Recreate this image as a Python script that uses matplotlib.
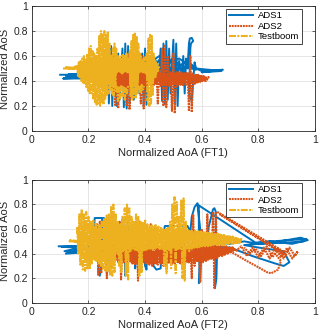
import numpy as np
import matplotlib
matplotlib.use("Agg")
import matplotlib.pyplot as plt

nan = float("nan")

# ---------------- Panel 1 (FT1) ----------------
ads1_ft1_x = [0.10, 0.20, 0.12, 0.21, 0.11, 0.20, 0.13, 0.22, 0.25,
              0.27, 0.272, 0.28, 0.284, 0.29, 0.30, 0.305, 0.31, 0.32, 0.325, 0.33, 0.335, 0.34, 0.345,
              0.355, 0.36, 0.37, 0.38, 0.39, 0.395, 0.40, 0.405, 0.41, 0.42, 0.43, 0.44, 0.45, 0.455,
              0.46, 0.465, 0.47, 0.475, 0.48, 0.485, 0.49, 0.50, 0.505, 0.51, 0.515, 0.52, 0.53, 0.535,
              0.54, 0.545, 0.55, 0.555, 0.558, 0.565, 0.57, 0.562, 0.56, 0.555, 0.565, 0.57, 0.575, 0.58,
              0.60, 0.675, 0.60, 0.67, 0.58, 0.55, 0.52, 0.50, 0.47, 0.45, 0.43, 0.42, 0.45, 0.48, 0.52,
              0.56, 0.58, 0.55, 0.50, 0.45, 0.42, 0.40, 0.30, 0.22]
ads1_ft1_y = [0.45, 0.45, 0.44, 0.43, 0.42, 0.42, 0.455, 0.46, 0.47,
              0.66, 0.22, 0.68, 0.20, 0.60, 0.20, 0.62, 0.25, 0.66, 0.19, 0.70, 0.18, 0.68, 0.22,
              0.60, 0.25, 0.55, 0.30, 0.62, 0.20, 0.66, 0.21, 0.60, 0.45, 0.50, 0.56, 0.48, 0.66,
              0.24, 0.70, 0.22, 0.72, 0.25, 0.66, 0.30, 0.73, 0.22, 0.70, 0.20, 0.56, 0.45, 0.60,
              0.30, 0.58, 0.50, 0.70, 0.74, 0.745, 0.72, 0.70, 0.66, 0.30, 0.24, 0.40, 0.55, 0.50,
              0.48, 0.49, 0.47, 0.48, 0.50, 0.56, 0.52, 0.58, 0.53, 0.57, 0.50, 0.55, 0.60, 0.54, 0.58,
              0.52, 0.49, 0.51, 0.50, 0.52, 0.49, 0.48, 0.48, 0.47]

ads2_ft1_x = [0.270, 0.275, 0.280, 0.285, 0.290, 0.295, 0.300, 0.305, 0.310, 0.315,
              0.320, 0.325, 0.330, 0.335, 0.340, 0.345, 0.350, 0.355, 0.360, 0.365, 0.370, 0.375,
              0.380, 0.385, 0.390, 0.395, 0.400, 0.405, 0.410, 0.415, 0.420, 0.425, 0.430, 0.435,
              0.440, 0.445, 0.450, 0.455, 0.460, 0.465, 0.470, 0.475, 0.480, 0.485, 0.490, 0.495,
              0.500, 0.505, 0.510, 0.515, 0.520, 0.525, 0.530, 0.535, 0.540, 0.545, 0.550, 0.555,
              0.560, 0.565, 0.570, 0.575, 0.580, 0.585, 0.590, 0.595, 0.600, 0.605, 0.610, 0.620,
              0.600, 0.625, 0.590, 0.615,
              0.617, 0.612, 0.607, 0.602, 0.597, 0.592, 0.587, 0.582, 0.577, 0.572, 0.567, 0.562,
              0.557, 0.552, 0.547, 0.542, 0.537, 0.532, 0.527, 0.522, 0.517, 0.512, 0.507, 0.502,
              0.497, 0.492, 0.487, 0.482, 0.477, 0.472, 0.467, 0.462, 0.457, 0.452, 0.447, 0.442,
              0.437, 0.432, 0.427, 0.422, 0.417, 0.412, 0.407, 0.402, 0.397, 0.392, 0.387, 0.382,
              0.377, 0.372, 0.367, 0.362, 0.357, 0.352, 0.347, 0.342, 0.337, 0.332, 0.327, 0.322,
              0.317, 0.312, 0.307, 0.302, 0.297, 0.292, 0.287, 0.282, 0.277, 0.272]
ads2_ft1_y = [0.47, 0.38, 0.60, 0.30, 0.62, 0.20, 0.58, 0.18, 0.47, 0.36,
              0.48, 0.35, 0.47, 0.20, 0.62, 0.17, 0.48, 0.36, 0.47, 0.35, 0.48, 0.36,
              0.47, 0.22, 0.60, 0.18, 0.48, 0.36, 0.47, 0.37, 0.48, 0.36, 0.47, 0.38,
              0.48, 0.22, 0.47, 0.36, 0.66, 0.20, 0.69, 0.19, 0.60, 0.36, 0.47, 0.16,
              0.62, 0.14, 0.47, 0.36, 0.46, 0.37, 0.47, 0.36, 0.46, 0.37, 0.47, 0.16,
              0.60, 0.15, 0.46, 0.37, 0.45, 0.38, 0.45, 0.39, 0.44, 0.40, 0.43, 0.41,
              0.42, 0.43, 0.41, 0.40,
              0.43, 0.41, 0.44, 0.40, 0.44, 0.40, 0.45, 0.39, 0.45, 0.38, 0.46, 0.39,
              0.46, 0.38, 0.46, 0.38, 0.46, 0.37, 0.47, 0.38, 0.47, 0.37, 0.46, 0.38,
              0.46, 0.37, 0.47, 0.38, 0.46, 0.37, 0.47, 0.38, 0.46, 0.37, 0.47, 0.38,
              0.46, 0.37, 0.47, 0.36, 0.47, 0.37, 0.46, 0.36, 0.47, 0.37, 0.48, 0.36,
              0.47, 0.35, 0.46, 0.36, 0.47, 0.37, 0.48, 0.36, 0.47, 0.35, 0.46, 0.37,
              0.48, 0.36, 0.47, 0.35, 0.47, 0.37, 0.46, 0.36, 0.47, 0.37]

tb_ft1_x = [0.110, 0.180, 0.120, 0.175, 0.130, 0.160, 0.163, 0.166, 0.169, 0.172, 0.175, 0.178,
            0.181, 0.184, 0.187, 0.190, 0.193, 0.196, 0.199, 0.202, 0.205, 0.208, 0.211, 0.214,
            0.217, 0.220, 0.223, 0.226, 0.229, 0.232, 0.235, 0.238, 0.241, 0.244, 0.247, 0.250,
            0.253, 0.256, 0.259, 0.262, 0.265, 0.268, 0.271, 0.274, 0.277, 0.280, 0.283, 0.286,
            0.289, 0.292, 0.295, 0.298, 0.301, 0.304, 0.307, 0.310, 0.313, 0.316, 0.319, 0.322,
            0.325, 0.328, 0.331, 0.334, 0.337, 0.340, 0.343, 0.346, 0.349, 0.352, 0.355, 0.358,
            0.361, 0.364, 0.367, 0.370, 0.373, 0.376, 0.379, 0.382, 0.385, 0.388, 0.391, 0.394,
            0.397, 0.400, 0.403, 0.406, 0.409, 0.412, 0.415, 0.418, 0.421, 0.424, 0.427, 0.430,
            0.433, 0.436, 0.439, 0.442, 0.446, 0.450,
            0.440, 0.436, 0.432, 0.428, 0.424, 0.420, 0.416, 0.412, 0.408, 0.404, 0.400, 0.396,
            0.392, 0.388, 0.384, 0.380, 0.376, 0.372, 0.368, 0.364, 0.360, 0.356, 0.352, 0.348,
            0.344, 0.340, 0.336, 0.332, 0.328, 0.324, 0.320, 0.316, 0.312, 0.308, 0.304, 0.300,
            0.296, 0.292, 0.288, 0.284, 0.280, 0.276, 0.272, 0.268, 0.264, 0.260, 0.256, 0.252,
            0.248, 0.244, 0.240, 0.236, 0.232, 0.228, 0.224, 0.220, 0.216, 0.212, 0.208, 0.204,
            0.200, 0.196, 0.192, 0.188, 0.184, 0.180, 0.176, 0.172, 0.168, 0.164,
            nan, 0.300, 0.304, 0.308, 0.312, 0.316, 0.320, 0.324, 0.328, 0.332, 0.336, 0.340,
            nan, 0.380, 0.384, 0.388, 0.392, 0.396]
tb_ft1_y = [0.50, 0.50, 0.51, 0.49, 0.50, 0.52, 0.44, 0.55, 0.42, 0.56, 0.40, 0.58,
            0.38, 0.60, 0.37, 0.57, 0.35, 0.62, 0.32, 0.66, 0.29, 0.68, 0.30, 0.64,
            0.26, 0.62, 0.23, 0.60, 0.21, 0.66, 0.22, 0.76, 0.20, 0.80, 0.22, 0.78,
            0.21, 0.80, 0.25, 0.77, 0.28, 0.79, 0.30, 0.70, 0.33, 0.60, 0.30, 0.66,
            0.28, 0.70, 0.32, 0.66, 0.47, 0.58, 0.48, 0.56, 0.47, 0.60, 0.46, 0.62,
            0.48, 0.58, 0.47, 0.62, 0.47, 0.57, 0.48, 0.64, 0.28, 0.72, 0.25, 0.77,
            0.27, 0.78, 0.26, 0.76, 0.30, 0.70, 0.47, 0.62, 0.48, 0.56, 0.47, 0.58,
            0.47, 0.55, 0.46, 0.62, 0.24, 0.74, 0.20, 0.77, 0.22, 0.76, 0.28, 0.62,
            0.42, 0.56, 0.46, 0.53, 0.48, 0.52,
            0.54, 0.43, 0.58, 0.40, 0.57, 0.39, 0.60, 0.40, 0.58, 0.47, 0.59, 0.47,
            0.57, 0.48, 0.60, 0.47, 0.58, 0.39, 0.59, 0.38, 0.57, 0.40, 0.60, 0.38,
            0.58, 0.47, 0.59, 0.48, 0.60, 0.47, 0.57, 0.48, 0.58, 0.47, 0.60, 0.48,
            0.59, 0.38, 0.58, 0.40, 0.60, 0.37, 0.59, 0.39, 0.58, 0.38, 0.60, 0.40,
            0.57, 0.38, 0.59, 0.37, 0.58, 0.39, 0.60, 0.38, 0.57, 0.40, 0.58, 0.39,
            0.56, 0.41, 0.57, 0.42, 0.55, 0.43, 0.56, 0.44, 0.54, 0.45,
            nan, 0.36, 0.24, 0.35, 0.26, 0.36, 0.28, 0.35, 0.25, 0.34, 0.30, 0.36,
            nan, 0.36, 0.30, 0.37, 0.33, 0.36]

# ---------------- Panel 2 (FT2) ----------------
ads1_ft2_x = [0.095, 0.16, 0.105, 0.17, 0.115, 0.18, 0.12, 0.16, 0.20,
              0.22, 0.222, 0.25, 0.24, 0.235, 0.24, 0.245, 0.25, 0.255, 0.26, 0.265, 0.27, 0.275,
              0.28, 0.29, 0.30, 0.31, 0.32, 0.325, 0.33, 0.335, 0.34, 0.345, 0.36, 0.365, 0.37,
              0.38, 0.39, 0.40, 0.405, 0.41, 0.42, 0.43, 0.44, 0.455, 0.46, 0.47, 0.55, 0.56,
              0.565, 0.575, 0.585, 0.59, 0.59, 0.592, 0.59, 0.595, 0.60, 0.585, 0.79, 0.85, 0.97,
              0.96, 0.90, 0.80, 0.75, 0.70, 0.62, 0.625, 0.64, 0.645, 0.65, 0.65, 0.647, 0.652,
              0.655, 0.70, 0.78, 0.86, 0.89, 0.91, 0.89, 0.80, 0.75, 0.85, 0.95, 0.975, 0.92,
              0.84, 0.78]
ads1_ft2_y = [0.46, 0.46, 0.455, 0.45, 0.42, 0.41, 0.40, 0.43, 0.45,
              0.62, 0.69, 0.69, 0.62, 0.25, 0.22, 0.30, 0.66, 0.69, 0.60, 0.40, 0.66, 0.25,
              0.30, 0.45, 0.50, 0.60, 0.68, 0.62, 0.22, 0.25, 0.66, 0.45, 0.62, 0.28, 0.40,
              0.55, 0.50, 0.30, 0.27, 0.60, 0.45, 0.30, 0.27, 0.28, 0.50, 0.625, 0.625, 0.58,
              0.70, 0.78, 0.81, 0.78, 0.55, 0.30, 0.16, 0.20, 0.50, 0.80, 0.49, 0.50, 0.52,
              0.50, 0.49, 0.48, 0.50, 0.48, 0.50, 0.62, 0.76, 0.77, 0.74, 0.40, 0.12, 0.20,
              0.45, 0.45, 0.38, 0.32, 0.30, 0.33, 0.42, 0.45, 0.47, 0.49, 0.53, 0.51, 0.48,
              0.50, 0.48]

ads2_ft2_x = [0.200, 0.205, 0.210, 0.215, 0.220, 0.225, 0.230, 0.235, 0.240, 0.245, 0.250, 0.255,
              0.260, 0.265, 0.270, 0.275, 0.280, 0.285, 0.290, 0.295, 0.300, 0.305, 0.310, 0.315,
              0.320, 0.325, 0.330, 0.335, 0.340, 0.345, 0.350, 0.355, 0.360, 0.365, 0.370, 0.375,
              0.380, 0.385, 0.390, 0.395, 0.400, 0.405, 0.410, 0.415, 0.420, 0.425, 0.430, 0.435,
              0.440, 0.445, 0.450, 0.455, 0.460, 0.465, 0.470, 0.475, 0.480, 0.485, 0.490, 0.495,
              0.500, 0.505, 0.510, 0.515, 0.520, 0.525, 0.530, 0.535, 0.540, 0.545, 0.550, 0.555,
              0.560, 0.565, 0.570, 0.575, 0.580, 0.585, 0.590, 0.595, 0.600, 0.605, 0.610, 0.615,
              0.620, 0.625, 0.630, 0.635, 0.640, 0.645, 0.650, 0.655, 0.660, 0.665, 0.670, 0.675,
              0.680, 0.685, 0.690, 0.695, 0.700, 0.705, 0.710, 0.715, 0.720,
              nan, 0.282, 0.287, 0.292, 0.297, 0.302, 0.307, 0.312, 0.317, 0.322, 0.327, 0.332,
              0.337, 0.342, 0.347, 0.352, 0.357, 0.362, 0.367, 0.372, 0.377, 0.382, 0.387, 0.392,
              0.397, 0.402, 0.407, 0.412, 0.417, 0.422, 0.427, 0.432, 0.437, 0.442, 0.447, 0.452,
              0.457, 0.462, 0.467, 0.472, 0.477, 0.482, 0.487, 0.492, 0.497, 0.502, 0.507, 0.512,
              0.517, 0.522, 0.527, 0.532, 0.537, 0.542, 0.547, 0.552, 0.557, 0.562, 0.567, 0.572,
              0.577, 0.582, 0.587, 0.592, 0.597, 0.602, 0.607, 0.612, 0.617, 0.622, 0.627, 0.632,
              0.637, 0.642, 0.647, 0.652, 0.657, 0.662, 0.667, 0.672, 0.677, 0.682, 0.687, 0.692,
              0.697, 0.702, 0.707, 0.712, 0.717,
              nan, 0.655, 0.880, 0.890, 0.665, 0.900,
              nan, 0.720, 0.740, 0.760, 0.780, 0.800, 0.820, 0.840, 0.860, 0.880, 0.900, 0.920,
              0.940, 0.930, 0.910, 0.890, 0.870, 0.850, 0.830, 0.810, 0.790, 0.770, 0.750,
              nan, 0.700, 0.760, 0.800, 0.830, 0.845, 0.870, 0.880, 0.860]
ads2_ft2_y = [0.44, 0.38, 0.46, 0.37, 0.45, 0.36, 0.64, 0.22, 0.66, 0.24, 0.45, 0.36,
              0.46, 0.20, 0.64, 0.30, 0.46, 0.35, 0.47, 0.34, 0.46, 0.33, 0.66, 0.19,
              0.46, 0.33, 0.47, 0.32, 0.46, 0.34, 0.47, 0.32, 0.46, 0.31, 0.68, 0.18,
              0.66, 0.25, 0.47, 0.33, 0.46, 0.32, 0.47, 0.31, 0.64, 0.30, 0.46, 0.32,
              0.47, 0.31, 0.46, 0.32, 0.47, 0.30, 0.46, 0.31, 0.47, 0.32, 0.46, 0.31,
              0.47, 0.32, 0.46, 0.33, 0.47, 0.32, 0.46, 0.33, 0.47, 0.34, 0.46, 0.33,
              0.47, 0.20, 0.72, 0.30, 0.47, 0.34, 0.47, 0.17, 0.60, 0.33, 0.47, 0.34,
              0.72, 0.35, 0.47, 0.36, 0.74, 0.12, 0.74, 0.36, 0.46, 0.38, 0.46, 0.39,
              0.46, 0.40, 0.45, 0.41, 0.45, 0.42, 0.45, 0.43, 0.44,
              nan, 0.36, 0.45, 0.35, 0.46, 0.36, 0.45, 0.34, 0.46, 0.35, 0.45, 0.34,
              0.46, 0.35, 0.45, 0.33, 0.46, 0.32, 0.45, 0.33, 0.46, 0.32, 0.46, 0.33,
              0.45, 0.32, 0.46, 0.33, 0.46, 0.32, 0.45, 0.33, 0.46, 0.32, 0.46, 0.33,
              0.45, 0.32, 0.46, 0.33, 0.46, 0.32, 0.45, 0.33, 0.46, 0.32, 0.46, 0.33,
              0.45, 0.32, 0.46, 0.33, 0.46, 0.32, 0.45, 0.33, 0.47, 0.34, 0.46, 0.33,
              0.47, 0.34, 0.47, 0.35, 0.46, 0.34, 0.47, 0.35, 0.47, 0.35, 0.46, 0.36,
              0.47, 0.36, 0.46, 0.37, 0.46, 0.38, 0.46, 0.38, 0.45, 0.39, 0.46, 0.40,
              0.45, 0.41, 0.45, 0.42, 0.44,
              nan, 0.74, 0.43, 0.40, 0.72, 0.38,
              nan, 0.42, 0.46, 0.38, 0.45, 0.37, 0.45, 0.36, 0.45, 0.37, 0.44, 0.36,
              0.42, 0.38, 0.45, 0.36, 0.44, 0.37, 0.46, 0.38, 0.44, 0.40, 0.45,
              nan, 0.42, 0.34, 0.29, 0.25, 0.24, 0.27, 0.34, 0.40]

tb_ft2_x = [0.130, 0.170, 0.135, 0.165,
            0.160, 0.164, 0.168, 0.172, 0.176, 0.180, 0.184, 0.188, 0.192, 0.196, 0.200, 0.204,
            0.208, 0.212, 0.216, 0.220, 0.224, 0.228, 0.232, 0.236, 0.240, 0.244, 0.248, 0.252,
            0.256, 0.260, 0.264, 0.268, 0.272, 0.276, 0.280, 0.284, 0.288, 0.292, 0.296, 0.300,
            0.304, 0.308, 0.312, 0.316, 0.320, 0.324, 0.328, 0.332, 0.336, 0.340, 0.344, 0.348,
            0.352, 0.356, 0.360, 0.364, 0.368, 0.372, 0.376, 0.380, 0.384, 0.388, 0.392, 0.396,
            0.400, 0.404, 0.408, 0.412, 0.416, 0.420, 0.424, 0.428, 0.432, 0.436, 0.440, 0.444,
            0.448, 0.452, 0.456, 0.460, 0.464, 0.468, 0.472, 0.476, 0.480, 0.484, 0.488, 0.492,
            0.496, 0.500, 0.504, 0.508, 0.512, 0.516, 0.520, 0.524, 0.528, 0.532, 0.536, 0.540,
            0.544, 0.548, 0.552, 0.556, 0.560, 0.565, 0.570, 0.575, 0.580, 0.585, 0.590, 0.595,
            0.600, 0.605, 0.610, 0.615, 0.620, 0.625, 0.630, 0.635, 0.640, 0.645, 0.650, 0.655,
            0.660, 0.665, 0.670, 0.675, 0.680, 0.685, 0.690, 0.695, 0.700, 0.705, 0.710, 0.715,
            0.720, 0.725, 0.730, 0.735, 0.740,
            0.737, 0.732, 0.727, 0.722, 0.717, 0.712, 0.707, 0.702, 0.697, 0.692, 0.687, 0.682,
            0.677, 0.672, 0.667, 0.662, 0.657, 0.652, 0.647, 0.642, 0.637, 0.632, 0.627, 0.622,
            0.617, 0.612, 0.607, 0.602, 0.597, 0.592, 0.587, 0.582, 0.577, 0.572, 0.567, 0.562,
            0.557, 0.552, 0.547, 0.542, 0.537, 0.532, 0.527, 0.522, 0.517, 0.512, 0.507, 0.502,
            0.497, 0.492, 0.487, 0.482, 0.477, 0.472, 0.467, 0.462, 0.457, 0.452, 0.447, 0.442,
            0.437, 0.432, 0.427, 0.422, 0.417, 0.412, 0.407, 0.402, 0.397, 0.392, 0.387, 0.382,
            0.377, 0.372, 0.367, 0.362, 0.357, 0.352, 0.347, 0.342, 0.337, 0.332, 0.327, 0.322,
            0.317, 0.312, 0.307, 0.302, 0.297, 0.292, 0.287, 0.282, 0.277, 0.272, 0.267, 0.262,
            0.257, 0.252, 0.247, 0.242, 0.237, 0.232, 0.227, 0.222, 0.217, 0.212, 0.207, 0.202,
            0.197, 0.192, 0.187, 0.182, 0.177, 0.172, 0.167, 0.162]
tb_ft2_y = [0.50, 0.50, 0.51, 0.49,
            0.62, 0.40, 0.72, 0.30, 0.76, 0.27, 0.72, 0.26, 0.74, 0.28, 0.70, 0.27,
            0.66, 0.32, 0.64, 0.36, 0.62, 0.34, 0.60, 0.32, 0.63, 0.30, 0.66, 0.28,
            0.69, 0.26, 0.71, 0.25, 0.73, 0.23, 0.78, 0.22, 0.80, 0.25, 0.72, 0.42,
            0.66, 0.30, 0.64, 0.25, 0.70, 0.42, 0.77, 0.22, 0.80, 0.19, 0.77, 0.42,
            0.70, 0.44, 0.66, 0.43, 0.72, 0.42, 0.70, 0.22, 0.66, 0.25, 0.65, 0.42,
            0.68, 0.43, 0.64, 0.43, 0.62, 0.44, 0.63, 0.43, 0.62, 0.44, 0.61, 0.44,
            0.60, 0.44, 0.61, 0.43, 0.60, 0.30, 0.60, 0.24, 0.61, 0.43, 0.66, 0.28,
            0.80, 0.44, 0.86, 0.24, 0.82, 0.43, 0.70, 0.44, 0.84, 0.20, 0.85, 0.18,
            0.66, 0.44, 0.60, 0.42, 0.59, 0.44, 0.58, 0.45, 0.58, 0.45, 0.58, 0.46,
            0.57, 0.46, 0.57, 0.46, 0.57, 0.47, 0.56, 0.47, 0.56, 0.47, 0.56, 0.47,
            0.56, 0.47, 0.55, 0.47, 0.55, 0.48, 0.55, 0.48, 0.54, 0.48, 0.54, 0.48,
            0.54, 0.49, 0.53, 0.49, 0.52,
            0.51, 0.49, 0.52, 0.485, 0.53, 0.48, 0.535, 0.48, 0.54, 0.475, 0.545, 0.47,
            0.55, 0.47, 0.555, 0.47, 0.56, 0.465, 0.565, 0.465, 0.57, 0.465, 0.57, 0.46,
            0.575, 0.46, 0.575, 0.46, 0.58, 0.455, 0.58, 0.455, 0.585, 0.45, 0.59, 0.45,
            0.59, 0.45, 0.60, 0.44, 0.59, 0.46, 0.60, 0.45, 0.59, 0.44, 0.60, 0.45,
            0.59, 0.46, 0.58, 0.44, 0.60, 0.45, 0.59, 0.46, 0.60, 0.44, 0.62, 0.45,
            0.64, 0.44, 0.60, 0.46, 0.63, 0.45, 0.62, 0.44, 0.64, 0.46, 0.61, 0.45,
            0.63, 0.44, 0.62, 0.46, 0.64, 0.45, 0.61, 0.44, 0.63, 0.43, 0.62, 0.42,
            0.64, 0.41, 0.63, 0.40,
            0.65, 0.36, 0.66, 0.34, 0.64, 0.35, 0.67, 0.33, 0.65, 0.36, 0.66, 0.34,
            0.64, 0.37, 0.65, 0.35, 0.67, 0.33, 0.66, 0.34, 0.65, 0.36, 0.64, 0.38,
            0.62, 0.40, 0.58, 0.44]

series_names = ["ADS1", "ADS2", "Testboom"]
xlabels = ["Normalized AoA (FT1)", "Normalized AoA (FT2)"]
ylabel = "Normalized AoS"
tick_vals = [0, 0.2, 0.4, 0.6, 0.8, 1]
tick_labels = ["0", "0.2", "0.4", "0.6", "0.8", "1"]

plt.rcParams["font.family"] = ["Liberation Sans", "DejaVu Sans"]
plt.rcParams["lines.scale_dashes"] = False

c_blue = "#0072BD"
c_orange = "#D95319"
c_yellow = "#EDB120"
c_axis = "#262626"

fig = plt.figure(figsize=(3.19, 3.35), dpi=100)
ax1 = fig.add_axes([0.100, 0.609, 0.887, 0.373])
ax2 = fig.add_axes([0.100, 0.096, 0.887, 0.367])

panels = [
    (ax1, ads1_ft1_x, ads1_ft1_y, ads2_ft1_x, ads2_ft1_y, tb_ft1_x, tb_ft1_y, xlabels[0]),
    (ax2, ads1_ft2_x, ads1_ft2_y, ads2_ft2_x, ads2_ft2_y, tb_ft2_x, tb_ft2_y, xlabels[1]),
]

for ax, bx, by, ox, oy, yx, yy, xl in panels:
    ax.plot(bx, by, color=c_blue, lw=1.4, ls="-", label=series_names[0], zorder=2)
    ax.plot(ox, oy, color=c_orange, lw=1.5, ls=(0, (1.4, 0.6)), label=series_names[1], zorder=3)
    ax.plot(yx, yy, color=c_yellow, lw=1.5, ls=(0, (5, 1, 1.5, 1)), label=series_names[2], zorder=4)
    ax.set_xlim(0, 1)
    ax.set_ylim(0, 1)
    ax.set_xticks(tick_vals)
    ax.set_xticklabels(tick_labels)
    ax.set_yticks(tick_vals)
    ax.set_yticklabels(tick_labels)
    ax.grid(True, color="#DCDCDC", lw=0.5)
    ax.set_axisbelow(True)
    for s in ax.spines.values():
        s.set_color(c_axis)
        s.set_linewidth(0.6)
    ax.tick_params(direction="in", length=2.5, width=0.5, colors=c_axis,
                   labelsize=7.5, pad=3, top=True, right=True)
    ax.set_xlabel(xl, fontsize=8, color=c_axis, labelpad=2)
    ax.set_ylabel(ylabel, fontsize=8, color=c_axis, labelpad=2)
    leg = ax.legend(loc="upper right", bbox_to_anchor=(0.954, 0.976), borderaxespad=0,
                    fontsize=6.8, frameon=True, fancybox=False, framealpha=1,
                    edgecolor=c_axis, handlelength=2.6, handletextpad=0.5,
                    borderpad=0.25, labelspacing=0.15)
    leg.set_zorder(10)
    leg.get_frame().set_linewidth(0.6)

fig.savefig("out.png", dpi=100)
